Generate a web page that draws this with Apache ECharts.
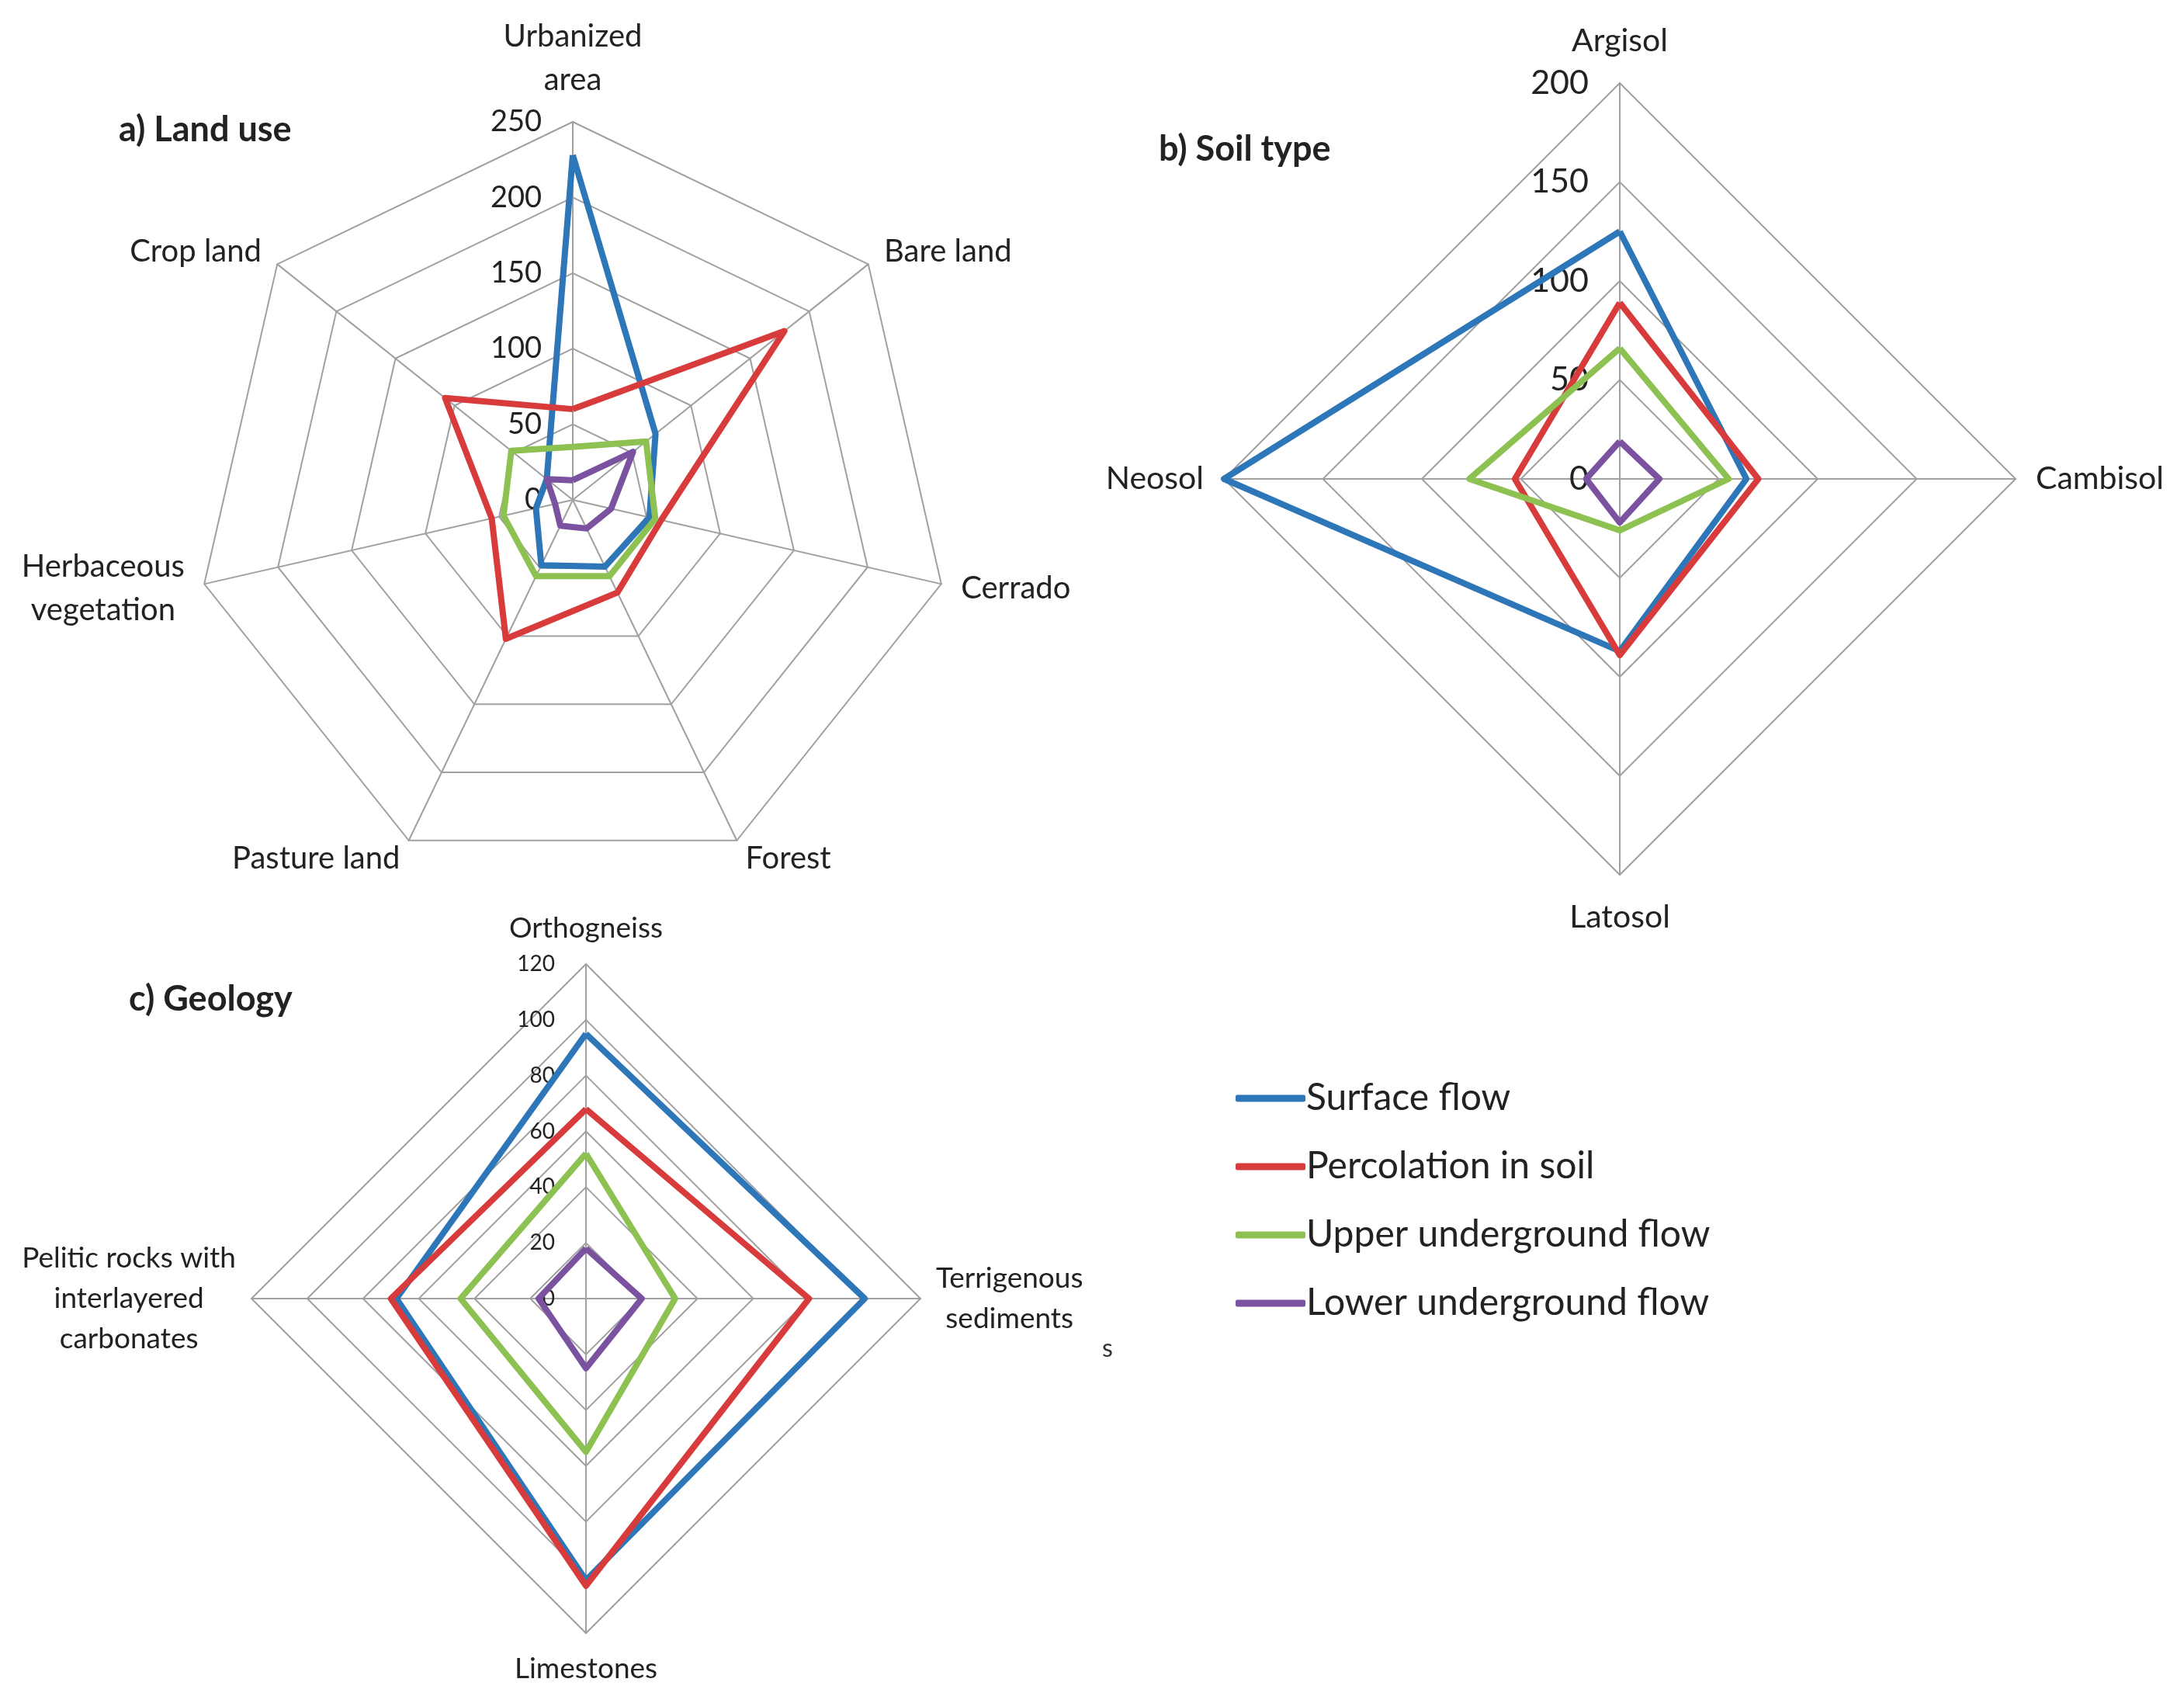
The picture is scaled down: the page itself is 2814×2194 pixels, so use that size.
<!DOCTYPE html>
<html><head><meta charset="utf-8">
<script src="https://cdn.jsdelivr.net/npm/echarts@6/dist/echarts.min.js"></script>
<style>html,body{margin:0;padding:0;background:#fff}#c{width:2814px;height:2194px}</style>
</head><body><div id="c"></div>
<script>
const FONT = 'Lato, "Open Sans", sans-serif';
const seriesNames = ['Surface flow', 'Percolation in soil', 'Upper underground flow', 'Lower underground flow'];
const seriesColors = ['#2d76b8', '#d83b3b', '#8dc152', '#7b52a0'];

// a) Land use (clockwise from top)
const landCategories = ['Urbanized\narea', 'Bare land', 'Cerrado', 'Forest', 'Pasture land', 'Herbaceous\nvegetation', 'Crop land'];
const landTicks = [0, 50, 100, 150, 200, 250];
const landSurface = [228, 70, 52, 49, 48, 25, 22];
const landPercolation = [60, 179, 60, 68, 102, 55, 108];
const landUpper = [35, 62, 56, 56, 56, 47, 52];
const landLower = [13, 51, 26, 21, 19, 12, 22];

// b) Soil type (clockwise from top)
const soilCategories = ['Argisol', 'Cambisol', 'Latosol', 'Neosol'];
const soilTicks = [0, 50, 100, 150, 200];
const soilSurface = [125, 64, 87, 200];
const soilPercolation = [89, 70, 89, 53];
const soilUpper = [66, 55, 26, 76];
const soilLower = [19, 20, 22, 17];

// c) Geology (clockwise from top)
const geoCategories = ['Orthogneiss', 'Terrigenous\nsediments', 'Limestones', 'Pelitic rocks with\ninterlayered\ncarbonates'];
const geoTicks = [0, 20, 40, 60, 80, 100, 120];
const geoSurface = [95, 100, 101, 68];
const geoPercolation = [68, 80, 103, 70];
const geoUpper = [52, 32, 55, 45];
const geoLower = [18, 20, 25, 17];

// ECharts radar runs counter-clockwise; reorder so categories run clockwise
function cw(arr) { return [arr[0]].concat(arr.slice(1).reverse()); }

function makeRadar(center, radius, cats, ticks, nameSize, tickSize, nameGap) {
  const max = ticks[ticks.length - 1];
  const lh = Math.round(nameSize * 1.4);
  return {
    center: center, radius: radius, startAngle: 90, shape: 'polygon',
    splitNumber: ticks.length - 1,
    nameGap: nameGap,
    indicator: cw(cats).map(function (c, i) {
      const o = { name: c, min: ticks[0], max: max };
      if (i === 0) o.axisLabel = { show: true };
      return o;
    }),
    axisName: {
      color: '#222', fontSize: nameSize, fontFamily: FONT, lineHeight: lh,
      formatter: function (n) { return n.split('\n').map(function (l) { return '{c|' + l + '}'; }).join('\n'); },
      rich: { c: { align: 'center', color: '#222', fontSize: nameSize, fontFamily: FONT, lineHeight: lh } }
    },
    splitLine: { lineStyle: { color: '#a0a0a0', width: 2 } },
    splitArea: { show: false },
    axisLine: { lineStyle: { color: '#a0a0a0', width: 2 } },
    axisTick: { show: false },
    axisLabel: { show: false, color: '#222', fontSize: tickSize, fontFamily: FONT, margin: 40, showMinLabel: true, showMaxLabel: true }
  };
}

function makeSeries(radarIndex, arrays) {
  return {
    type: 'radar', radarIndex: radarIndex, symbol: 'none', silent: true,
    data: arrays.map(function (a, i) {
      return {
        name: seriesNames[i], value: cw(a),
        lineStyle: { color: seriesColors[i], width: 8 },
        itemStyle: { color: seriesColors[i] }
      };
    })
  };
}

const chart = echarts.init(document.getElementById('c'), null, { renderer: 'canvas' });
chart.setOption({
  backgroundColor: '#ffffff',
  animation: false,
  color: seriesColors,
  title: [
    { text: 'a) Land use', left: 148, top: 140, textStyle: { fontFamily: FONT, fontWeight: 'bold', fontSize: 45, color: '#222' } },
    { text: 'b) Soil type', left: 1488, top: 165, textStyle: { fontFamily: FONT, fontWeight: 'bold', fontSize: 45, color: '#222' } },
    { text: 'c) Geology', left: 161, top: 1260, textStyle: { fontFamily: FONT, fontWeight: 'bold', fontSize: 45, color: '#222' } }
  ],
  legend: {
    orient: 'vertical', left: 1587, top: 1386, itemGap: 40,
    itemWidth: 90, itemHeight: 9, icon: 'roundRect',
    data: seriesNames,
    textStyle: { fontFamily: FONT, fontSize: 48, color: '#222', padding: [0, 0, 0, -4] }
  },
  radar: [
    makeRadar([738, 644], 487, landCategories, landTicks, 40, 38, 26),
    makeRadar([2087, 617], 510, soilCategories, soilTicks, 41, 43, 26),
    makeRadar([755, 1673], 431, geoCategories, geoTicks, 37, 28, 20)
  ],
  series: [
    makeSeries(0, [landSurface, landPercolation, landUpper, landLower]),
    makeSeries(1, [soilSurface, soilPercolation, soilUpper, soilLower]),
    makeSeries(2, [geoSurface, geoPercolation, geoUpper, geoLower])
  ],
  graphic: [
    { type: 'text', left: 1420, top: 1722, style: { text: 's', fontSize: 32, fontFamily: FONT, fill: '#333' } }
  ]
});
</script>
</body></html>
